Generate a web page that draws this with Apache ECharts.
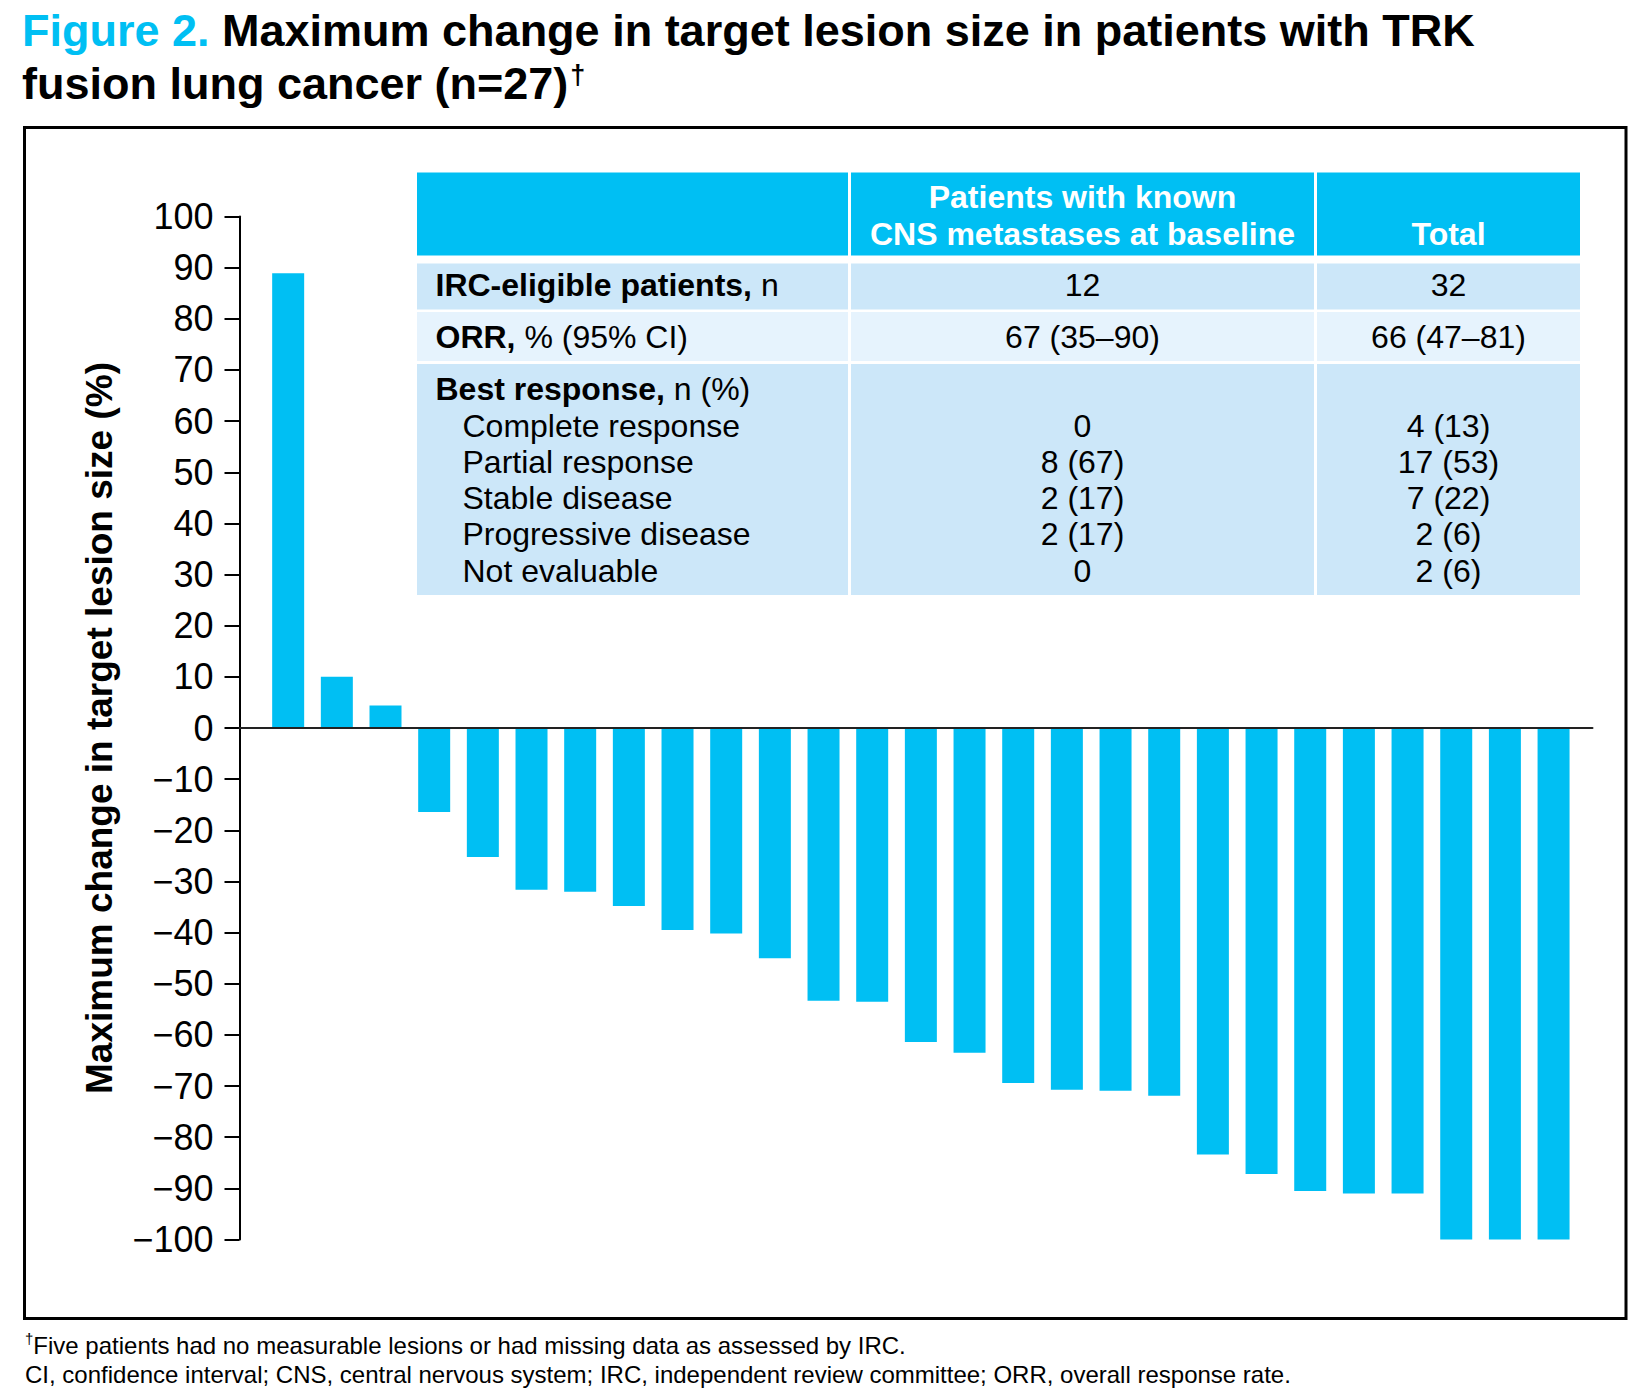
<!DOCTYPE html>
<html>
<head>
<meta charset="utf-8">
<script src="https://cdn.jsdelivr.net/npm/echarts@6/dist/echarts.min.js"></script>
<style>
  html, body { margin: 0; padding: 0; background: #fff; }
  #chart { width: 1641px; height: 1396px; }
</style>
</head>
<body>
<div id="chart"></div>
<script>
// ---------- data ----------
const patientIds = [1, 2, 3, 4, 5, 6, 7, 8, 9, 10, 11, 12, 13, 14, 15, 16, 17, 18, 19, 20, 21, 22, 23, 24, 25, 26, 27];
const maxChange = [88.9, 10.0, 4.4, -16.4, -25.2, -31.6, -32.0, -34.8, -39.5, -40.2, -45.0, -53.3, -53.5,
                   -61.4, -63.5, -69.4, -70.7, -70.9, -71.9, -83.4, -87.2, -90.5, -91.0, -91.0, -100, -100, -100];
const yTicks = { min: -100, max: 100, interval: 10 };

const titleLine1 = 'Maximum change in target lesion size in patients with TRK';
const titleLine2 = 'fusion lung cancer (n=27)';
const yAxisTitle = 'Maximum change in target lesion size (%)';

const tableHeaders = ['', 'Patients with known\nCNS metastases at baseline', 'Total'];
const tableRowLabels = ['{b|IRC-eligible patients,} n', '{b|ORR,} % (95% CI)', '{b|Best response,} n (%)',
                        'Complete response', 'Partial response', 'Stable disease', 'Progressive disease', 'Not evaluable'];
const tableRowIndent = [false, false, false, true, true, true, true, true];
const cnsValues = ['12', '67 (35–90)', '', '0', '8 (67)', '2 (17)', '2 (17)', '0'];
const totalValues = ['32', '66 (47–81)', '', '4 (13)', '17 (53)', '7 (22)', '2 (6)', '2 (6)'];

const footnote1 = 'Five patients had no measurable lesions or had missing data as assessed by IRC.';
const footnote2 = 'CI, confidence interval; CNS, central nervous system; IRC, independent review committee; ORR, overall response rate.';

// ---------- styles / layout ----------
const FONT = "'Liberation Sans', Arial, Helvetica, sans-serif";
const CYAN = '#00BFF3';
const ROW_DARK = '#CCE7F9';
const ROW_LIGHT = '#E6F3FD';

const colBounds = [[417, 848], [851, 1314], [1317, 1580]];
const rowBounds = [[172.5, 255.5], [263.5, 309.5], [312, 361], [364, 595]];
const rowFills = [CYAN, ROW_DARK, ROW_LIGHT, ROW_DARK];
const textRowY = [285, 337, 389, 425.5, 461.5, 498, 534, 571];

const graphics = [];

// figure border
graphics.push({
  type: 'rect', silent: true, z: 0,
  shape: { x: 24.5, y: 127.5, width: 1601.5, height: 1191 },
  style: { fill: 'none', stroke: '#000', lineWidth: 3 }
});

// title
graphics.push({
  type: 'text', z: 10,
  style: {
    x: 22, y: 30, verticalAlign: 'middle', align: 'left',
    text: '{c|Figure 2.\u00A0}{k|' + titleLine1 + '}',
    rich: {
      c: { fill: CYAN, fontSize: 45, fontWeight: 'bold', fontFamily: FONT, lineHeight: 54 },
      k: { fill: '#000', fontSize: 45, fontWeight: 'bold', fontFamily: FONT, lineHeight: 54 }
    }
  }
});
graphics.push({
  type: 'text', z: 10,
  style: {
    x: 22, y: 83, verticalAlign: 'middle', align: 'left',
    text: '{k|' + titleLine2 + '}{s|†}',
    rich: {
      k: { fill: '#000', fontSize: 45, fontWeight: 'bold', fontFamily: FONT, lineHeight: 54 },
      s: { fill: '#000', fontSize: 27, fontWeight: 'bold', fontFamily: FONT, lineHeight: 27,
           verticalAlign: 'top', padding: [5, 0, 0, 2] }
    }
  }
});

// table cells
rowBounds.forEach((rb, r) => {
  colBounds.forEach((cb) => {
    graphics.push({
      type: 'rect', silent: true, z: 5,
      shape: { x: cb[0], y: rb[0], width: cb[1] - cb[0], height: rb[1] - rb[0] },
      style: { fill: rowFills[r] }
    });
  });
});
// table header
const colCenter = colBounds.map(cb => (cb[0] + cb[1]) / 2);
graphics.push({
  type: 'text', z: 6,
  style: {
    x: colCenter[1], y: 215.5, align: 'center', verticalAlign: 'middle',
    text: tableHeaders[1], fill: '#fff', fontSize: 32, fontWeight: 'bold', fontFamily: FONT, lineHeight: 37
  }
});
graphics.push({
  type: 'text', z: 6,
  style: {
    x: colCenter[2], y: 234, align: 'center', verticalAlign: 'middle',
    text: tableHeaders[2], fill: '#fff', fontSize: 32, fontWeight: 'bold', fontFamily: FONT
  }
});
// table body
tableRowLabels.forEach((lab, i) => {
  graphics.push({
    type: 'text', z: 6,
    style: {
      x: tableRowIndent[i] ? 462.5 : 435.5, y: textRowY[i], align: 'left', verticalAlign: 'middle',
      text: lab, fill: '#000', fontSize: 32, fontFamily: FONT,
      rich: { b: { fontWeight: 'bold', fontSize: 32, fontFamily: FONT, fill: '#000' } }
    }
  });
  [cnsValues, totalValues].forEach((arr, k) => {
    if (!arr[i]) return;
    graphics.push({
      type: 'text', z: 6,
      style: {
        x: colCenter[k + 1], y: textRowY[i], align: 'center', verticalAlign: 'middle',
        text: arr[i], fill: '#000', fontSize: 32, fontFamily: FONT
      }
    });
  });
});

// footnotes
graphics.push({
  type: 'text', z: 10,
  style: {
    x: 25, y: 1345, align: 'left', verticalAlign: 'middle',
    text: '{s|†}{t|' + footnote1 + '}',
    rich: {
      s: { fill: '#000', fontSize: 15, fontFamily: FONT, lineHeight: 15, verticalAlign: 'top' },
      t: { fill: '#000', fontSize: 24, fontFamily: FONT, lineHeight: 28 }
    }
  }
});
graphics.push({
  type: 'text', z: 10,
  style: {
    x: 25, y: 1374, align: 'left', verticalAlign: 'middle',
    text: footnote2, fill: '#000', fontSize: 24, fontFamily: FONT
  }
});

const chart = echarts.init(document.getElementById('chart'), null, { renderer: 'svg', width: 1641, height: 1396 });
chart.setOption({
  animation: false,
  backgroundColor: '#fff',
  textStyle: { fontFamily: FONT },
  grid: { left: 239.5, right: 48.5, top: 216.5, bottom: 156.5, containLabel: false, outerBoundsMode: 'none' },
  xAxis: {
    type: 'value', min: 0, max: 27.8, z: 5,
    axisLine: { show: true, onZero: true, lineStyle: { color: '#222', width: 2 } },
    axisTick: { show: false }, axisLabel: { show: false }, splitLine: { show: false }
  },
  yAxis: {
    type: 'value', min: yTicks.min, max: yTicks.max, interval: yTicks.interval,
    name: yAxisTitle, nameLocation: 'middle', nameRotate: 90, nameGap: 140.5,
    nameTextStyle: { fontSize: 37, fontWeight: 'bold', color: '#000', fontFamily: FONT, align: 'center', verticalAlign: 'middle' },
    axisLine: { show: true, onZero: false, lineStyle: { color: '#000', width: 2 } },
    axisTick: { show: true, length: 15, lineStyle: { color: '#000', width: 2 } },
    axisLabel: {
      fontSize: 36, color: '#000', fontFamily: FONT, margin: 26,
      formatter: v => (v < 0 ? '\u2212' + Math.abs(v) : String(v))
    },
    splitLine: { show: false }
  },
  series: [{
    type: 'bar',
    data: maxChange.map((v, i) => [patientIds[i], v]),
    barWidth: 32,
    itemStyle: { color: CYAN },
    z: 2
  }],
  graphic: graphics
});
</script>
</body>
</html>
